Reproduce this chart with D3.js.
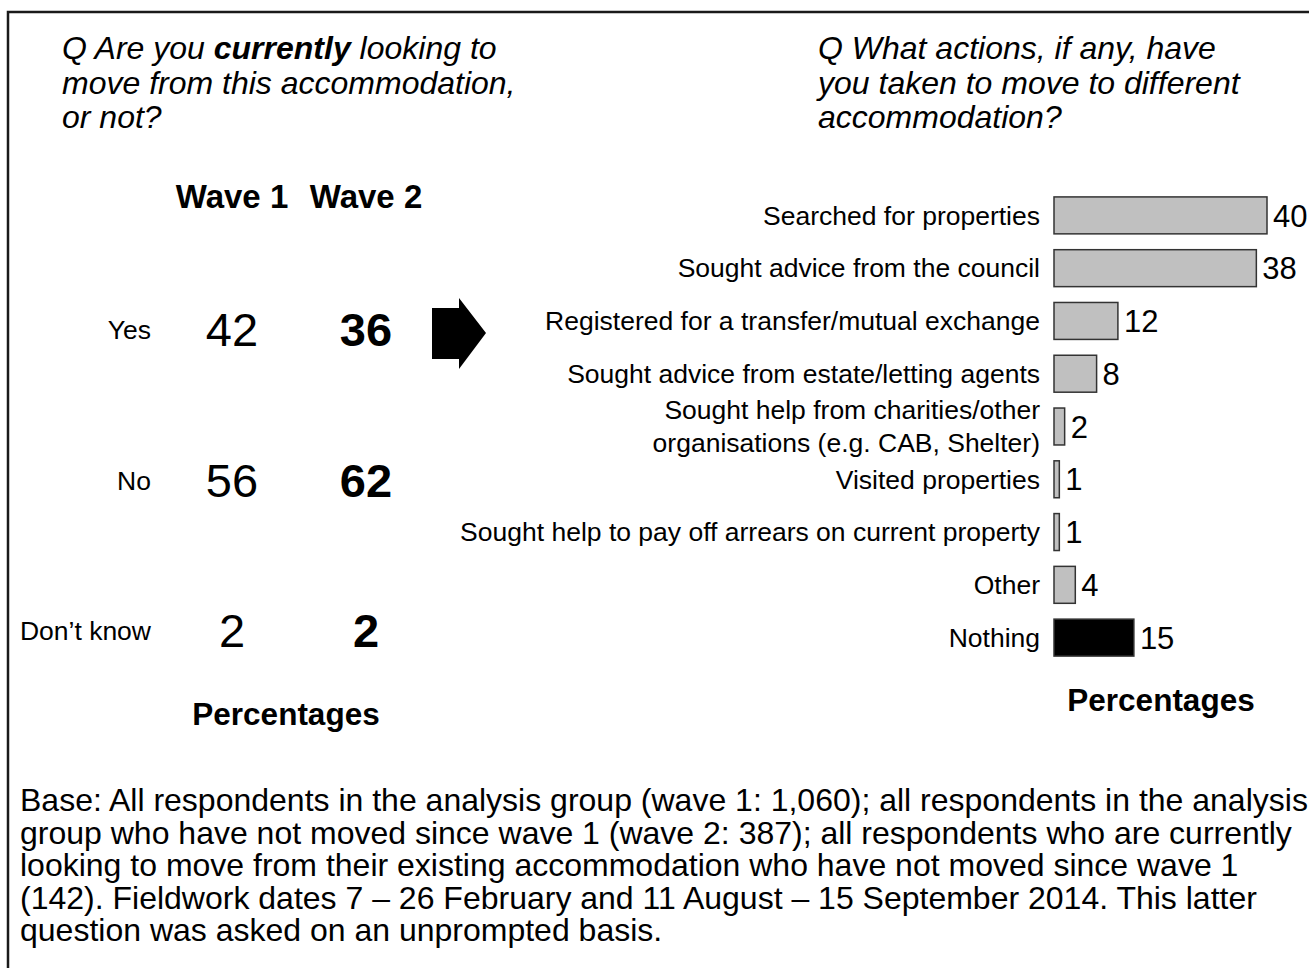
<!DOCTYPE html>
<html>
<head>
<meta charset="utf-8">
<script src="https://cdn.jsdelivr.net/npm/d3@7"></script>
<style>
  body { margin: 0; background: #fff; }
  svg { display: block; font-family: "Liberation Sans", Arial, sans-serif; }
</style>
</head>
<body>
<div id="chart"></div>
<script>
// left panel: currently looking to move
const waveCats = ["Yes", "No", "Don\u2019t know"];
const waveNames = ["Wave 1", "Wave 2"];
const wave1 = [42, 56, 2];
const wave2 = [36, 62, 2];

// right panel: actions taken
const actions = [
    ["Searched for properties"],
    ["Sought advice from the council"],
    ["Registered for a transfer/mutual exchange"],
    ["Sought advice from estate/letting agents"],
    ["Sought help from charities/other", "organisations (e.g. CAB, Shelter)"],
    ["Visited properties"],
    ["Sought help to pay off arrears on current property"],
    ["Other"],
    ["Nothing"]
];
const actionVals = [40, 38, 12, 8, 2, 1, 1, 4, 15];

const leftTitle = [
    [["Q Are you ", false], ["currently", true], [" looking to", false]],
    [["move from this accommodation,", false]],
    [["or not?", false]]
];
const rightTitle = ["Q What actions, if any, have", "you taken to move to different", "accommodation?"];

const footLines = [
    "Base: All respondents in the analysis group (wave 1: 1,060); all respondents in the analysis",
    "group who have not moved since wave 1 (wave 2: 387); all respondents who are currently",
    "looking to move from their existing accommodation who have not moved since wave 1",
    "(142). Fieldwork dates 7 \u2013 26 February and 11 August \u2013 15 September 2014. This latter",
    "question was asked on an unprompted basis."
];

let w = 1309, h = 968;

let svg = d3.select("#chart")
    .append("svg")
    .attr("width", w)
    .attr("height", h);

// frame (runs off the right and bottom edge)
svg.append("rect")
    .attr("x", 8)
    .attr("y", 12)
    .attr("width", w + 20)
    .attr("height", h + 20)
    .attr("fill", "none")
    .attr("stroke", "#1a1a1a")
    .attr("stroke-width", 2.5);

// titles
let lt = svg.append("text")
    .attr("font-size", 32)
    .attr("font-style", "italic")
    .attr("fill", "#000");
leftTitle.forEach(function (line, i) {
    line.forEach(function (part, j) {
        let t = lt.append("tspan").text(part[0]);
        if (j === 0) t.attr("x", 62).attr("y", 59 + i * 34.5);
        if (part[1]) t.attr("font-weight", "bold");
    });
});

svg.append("g")
    .selectAll("text")
    .data(rightTitle)
    .enter()
    .append("text")
    .attr("x", 818)
    .attr("y", function (d, i) { return 59 + i * 34.5; })
    .attr("font-size", 32)
    .attr("font-style", "italic")
    .text(function (d) { return d; });

// ---- left panel ----
let colX = d3.scalePoint()
    .domain(waveNames)
    .range([232, 366]);

let rowY = d3.scalePoint()
    .domain(waveCats)
    .range([330, 631]);

svg.append("g")
    .selectAll("text")
    .data(waveNames)
    .enter()
    .append("text")
    .attr("x", function (d) { return colX(d); })
    .attr("y", 196)
    .attr("dy", "0.35em")
    .attr("text-anchor", "middle")
    .attr("font-size", 33)
    .attr("font-weight", "bold")
    .text(function (d) { return d; });

svg.append("g")
    .selectAll("text")
    .data(waveCats)
    .enter()
    .append("text")
    .attr("x", 151)
    .attr("y", function (d) { return rowY(d); })
    .attr("dy", "0.35em")
    .attr("text-anchor", "end")
    .attr("font-size", 26.5)
    .text(function (d) { return d; });

[wave1, wave2].forEach(function (vals, k) {
    svg.append("g")
        .selectAll("text")
        .data(vals)
        .enter()
        .append("text")
        .attr("x", colX(waveNames[k]))
        .attr("y", function (d, i) { return rowY(waveCats[i]); })
        .attr("dy", "0.35em")
        .attr("text-anchor", "middle")
        .attr("font-size", 47)
        .attr("font-weight", k === 1 ? "bold" : "normal")
        .text(function (d) { return d; });
});

svg.append("text")
    .attr("x", 286)
    .attr("y", 714)
    .attr("dy", "0.35em")
    .attr("text-anchor", "middle")
    .attr("font-size", 31.5)
    .attr("font-weight", "bold")
    .text("Percentages");

// arrow
svg.append("path")
    .attr("d", "M432,308 L459,308 L459,298 L486,333 L459,369 L459,359 L432,359 Z")
    .attr("fill", "#000");

// ---- right panel ----
let xScale = d3.scaleLinear()
    .domain([0, 40])
    .range([1054, 1267]);

let yScale = d3.scaleBand()
    .domain(d3.range(actions.length))
    .range([189, 664])
    .paddingInner(0.3)
    .paddingOuter(0.15);

let bars = svg.append("g");

bars.selectAll("rect")
    .data(actionVals)
    .enter()
    .append("rect")
    .attr("x", xScale(0))
    .attr("y", function (d, i) { return yScale(i); })
    .attr("width", function (d) { return xScale(d) - xScale(0); })
    .attr("height", yScale.bandwidth())
    .attr("fill", function (d, i) { return i === actions.length - 1 ? "#000" : "#c0c0c0"; })
    .attr("stroke", "#333")
    .attr("stroke-width", 1.5);

bars.selectAll("text.val")
    .data(actionVals)
    .enter()
    .append("text")
    .attr("class", "val")
    .attr("x", function (d) { return xScale(d) + 6; })
    .attr("y", function (d, i) { return yScale(i) + yScale.bandwidth() / 2; })
    .attr("dy", "0.36em")
    .attr("font-size", 31)
    .text(function (d) { return d; });

let labels = bars.selectAll("text.cat")
    .data(actions)
    .enter()
    .append("text")
    .attr("class", "cat")
    .attr("text-anchor", "end")
    .attr("font-size", 26.5);

labels.each(function (lines, i) {
    let cy = yScale(i) + yScale.bandwidth() / 2;
    let el = d3.select(this);
    lines.forEach(function (s, j) {
        el.append("tspan")
            .attr("x", 1040)
            .attr("y", cy + (j - (lines.length - 1) / 2) * 33)
            .attr("dy", "0.35em")
            .text(s);
    });
});

svg.append("text")
    .attr("x", 1161)
    .attr("y", 700)
    .attr("dy", "0.35em")
    .attr("text-anchor", "middle")
    .attr("font-size", 31.5)
    .attr("font-weight", "bold")
    .text("Percentages");

// footnote (first line runs to the right edge, as in the original)
svg.append("g")
    .selectAll("text")
    .data(footLines)
    .enter()
    .append("text")
    .attr("x", 20)
    .attr("y", function (d, i) { return 800 + i * 32.5; })
    .attr("dy", "0.35em")
    .attr("font-size", 32)
    .text(function (d) { return d; });
</script>
</body>
</html>
